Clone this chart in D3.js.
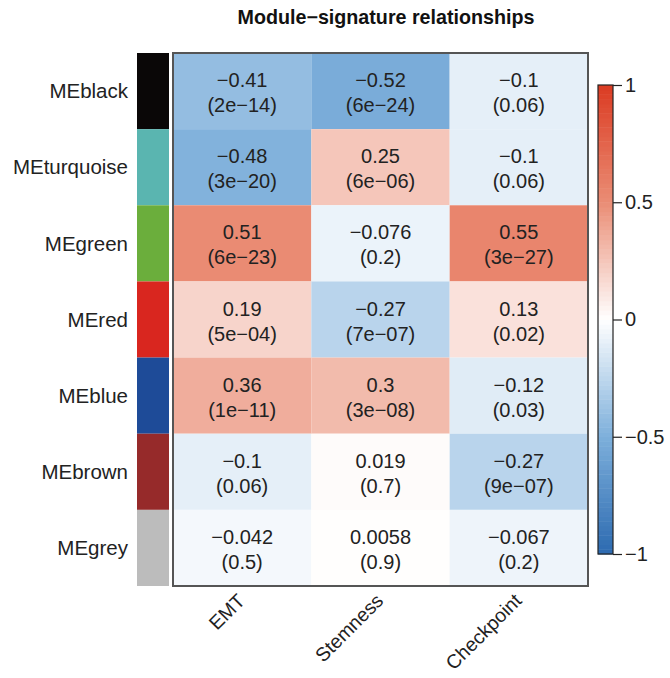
<!DOCTYPE html>
<html>
<head>
<meta charset="utf-8">
<script src="https://cdn.jsdelivr.net/npm/d3@7"></script>
<style>
  html, body { margin: 0; padding: 0; background: #fff; }
  svg { display: block; font-family: "Liberation Sans", Arial, sans-serif; }
</style>
</head>
<body>
<svg id="chart" width="670" height="678"></svg>
<script>
// Module eigengenes (rows) and their module colours
const modules = ["MEblack", "MEturquoise", "MEgreen", "MEred", "MEblue", "MEbrown", "MEgrey"];
const moduleColors = ["#0a0707", "#5ab5b0", "#6bae3c", "#d9261f", "#1e4b98", "#962a2a", "#bcbcbc"];

// Signatures (columns)
const traits = ["EMT", "Stemness", "Checkpoint"];

// Correlation of each module with each signature
const corEMT = [-0.41, -0.48, 0.51, 0.19, 0.36, -0.1, -0.042];
const corStemness = [-0.52, 0.25, -0.076, -0.27, 0.3, 0.019, 0.0058];
const corCheckpoint = [-0.1, -0.1, 0.55, 0.13, -0.12, -0.27, -0.067];

// Correlation p-values, as printed
const pEMT = ["2e-14", "3e-20", "6e-23", "5e-04", "1e-11", "0.06", "0.5"];
const pStemness = ["6e-24", "6e-06", "0.2", "7e-07", "3e-08", "0.7", "0.9"];
const pCheckpoint = ["0.06", "0.06", "3e-27", "0.02", "0.03", "9e-07", "0.2"];

// Colour-key ticks
const keyTicks = [-1, -0.5, 0, 0.5, 1];

const corByTrait = [corEMT, corStemness, corCheckpoint];
const pByTrait = [pEMT, pStemness, pCheckpoint];

const cells = [];
traits.forEach((t, j) => {
  modules.forEach((m, i) => {
    cells.push({ module: m, trait: t, r: corByTrait[j][i], p: pByTrait[j][i] });
  });
});

const minus = s => String(s).replace(/-/g, "\u2212");

const svg = d3.select("#chart");
const FS = 20;

// Plot region
const hm = { left: 173, right: 588, top: 53, bottom: 586 };

const x = d3.scaleBand().domain(traits).range([hm.left, hm.right]);
const y = d3.scaleBand().domain(modules).range([hm.top, hm.bottom]);

const color = d3.scaleLinear()
  .domain([-1, -0.5, 0, 0.5, 1])
  .range(["#2c6ab0", "#7dafdb", "#ffffff", "#ea8d75", "#db3b22"])
  .clamp(true);

// Title
svg.append("text")
  .attr("x", 386).attr("y", 24)
  .attr("text-anchor", "middle")
  .attr("font-weight", "bold")
  .attr("font-size", 19.7)
  .attr("fill", "#111")
  .text("Module\u2212signature relationships");

// Module colour strip
svg.append("g").selectAll("rect")
  .data(modules)
  .join("rect")
  .attr("x", 137).attr("width", 32)
  .attr("y", d => y(d)).attr("height", y.bandwidth())
  .attr("fill", (d, i) => moduleColors[i]);

// Row labels
svg.append("g").selectAll("text")
  .data(modules)
  .join("text")
  .attr("x", 128)
  .attr("y", d => y(d) + y.bandwidth() / 2)
  .attr("dy", "0.35em")
  .attr("text-anchor", "end")
  .attr("font-size", 20.5)
  .attr("fill", "#222")
  .text(d => d);

// Heatmap cells
const cellG = svg.append("g");
cellG.selectAll("rect")
  .data(cells)
  .join("rect")
  .attr("x", d => x(d.trait)).attr("y", d => y(d.module))
  .attr("width", x.bandwidth()).attr("height", y.bandwidth())
  .attr("fill", d => color(d.r));

const labels = cellG.selectAll("text")
  .data(cells)
  .join("text")
  .attr("text-anchor", "middle")
  .attr("font-size", FS)
  .attr("fill", "#222");
labels.append("tspan")
  .attr("x", d => x(d.trait) + x.bandwidth() / 2)
  .attr("y", d => y(d.module) + y.bandwidth() / 2 - 11)
  .attr("dy", "0.35em")
  .text(d => minus(d.r));
labels.append("tspan")
  .attr("x", d => x(d.trait) + x.bandwidth() / 2)
  .attr("y", d => y(d.module) + y.bandwidth() / 2 + 14)
  .attr("dy", "0.35em")
  .text(d => "(" + minus(d.p) + ")");

// Frame
svg.append("rect")
  .attr("x", hm.left).attr("y", hm.top)
  .attr("width", hm.right - hm.left).attr("height", hm.bottom - hm.top)
  .attr("fill", "none")
  .attr("stroke", "#555")
  .attr("stroke-width", 2);

// Column labels, rotated
svg.append("g").selectAll("text")
  .data(traits)
  .join("text")
  .attr("transform", d => `translate(${x(d) + x.bandwidth() / 2 + 4},${602}) rotate(-45)`)
  .attr("text-anchor", "end")
  .attr("font-size", 19.5)
  .attr("fill", "#222")
  .text(d => d);

// Colour key
const key = { x: 598, w: 15, top: 85, bottom: 554 };
const ky = d3.scaleLinear().domain([-1, 1]).range([key.bottom, key.top]);
const steps = d3.range(100).map(i => -1 + (i + 0.5) * 2 / 100);
svg.append("g").selectAll("rect")
  .data(steps)
  .join("rect")
  .attr("x", key.x).attr("width", key.w)
  .attr("y", d => ky(d + 0.01))
  .attr("height", ky(-1) - ky(-0.98) + 0.5)
  .attr("fill", d => color(d));
svg.append("rect")
  .attr("x", key.x).attr("y", key.top)
  .attr("width", key.w).attr("height", key.bottom - key.top)
  .attr("fill", "none").attr("stroke", "#222").attr("stroke-width", 1.2);

const keyAxis = d3.axisRight(ky)
  .tickValues(keyTicks)
  .tickSize(9)
  .tickPadding(3)
  .tickFormat(d => minus(d));
const ka = svg.append("g")
  .attr("transform", `translate(${key.x + key.w},0)`)
  .call(keyAxis);
ka.select(".domain").remove();
ka.selectAll("line").attr("stroke", "#222").attr("stroke-width", 1.2);
ka.selectAll("text")
  .attr("font-size", FS)
  .attr("font-family", "'Liberation Sans', Arial, sans-serif")
  .attr("fill", "#222");
</script>
</body>
</html>
